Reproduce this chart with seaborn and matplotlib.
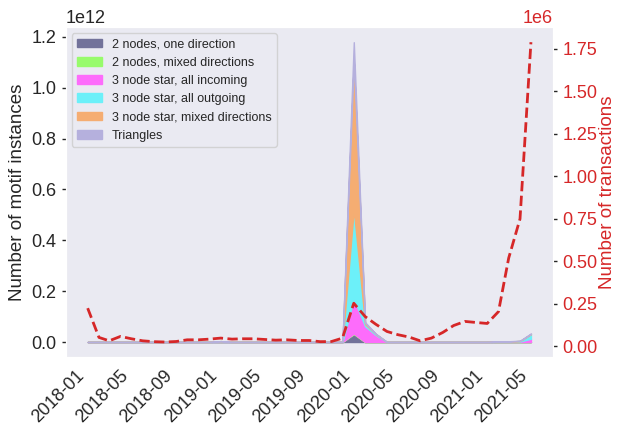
import matplotlib
matplotlib.use("Agg")
import matplotlib.pyplot as plt
import matplotlib.dates as mdates
import matplotlib.ticker as mticker
import pandas as pd
import seaborn as sns

# ---------------------------------------------------------------------------
# Data (monthly, 2018-01 .. 2021-05)
# ---------------------------------------------------------------------------
months = pd.date_range("2018-01-01", "2021-05-01", freq="MS")

motif_labels = [
    "2 nodes, one direction",
    "2 nodes, mixed directions",
    "3 node star, all incoming",
    "3 node star, all outgoing",
    "3 node star, mixed directions",
    "Triangles",
]
motif_colors = ["#72729a", "#98fb6c", "#fd6cfb", "#6cf0f9", "#f5ad72", "#b5b0dd"]

# motif instances, in units of 1e12
two_one_dir = [0] * 24 + [0.031] + [0] * 16
two_mixed = [0] * 24 + [0.002] + [0] * 16
star_in = [0] * 12 + [0.0005] + [0] * 11 + [0.137, 0.062, 0.028] + [0] * 10 + [0.001, 0.001, 0.002, 0.013]
star_out = [0] * 12 + [0.003] + [0] * 11 + [0.351, 0.008, 0.003] + [0] * 10 + [0.001, 0.001, 0.002, 0.018]
star_mixed = [0] * 24 + [0.580, 0.005, 0.001] + [0] * 13 + [0.001]
triangles = [0] * 24 + [0.078, 0.003, 0.001] + [0] * 10 + [0.001, 0.001, 0.001, 0.002]

# number of transactions, in units of 1e6
transactions = [
    0.225, 0.053, 0.033, 0.059, 0.045, 0.033, 0.028, 0.026, 0.029, 0.039,
    0.039, 0.043, 0.049, 0.043, 0.045, 0.045, 0.041, 0.037, 0.039, 0.035,
    0.035, 0.028, 0.029, 0.049, 0.254, 0.176, 0.131, 0.088, 0.069, 0.055,
    0.033, 0.049, 0.082, 0.123, 0.147, 0.141, 0.135, 0.205, 0.520, 0.750,
    1.789,
]

series = [two_one_dir, two_mixed, star_in, star_out, star_mixed, triangles]
series = [[v * 1e12 for v in s] for s in series]
trans = pd.DataFrame({"month": months, "n": [v * 1e6 for v in transactions]})

# ---------------------------------------------------------------------------
# Plot
# ---------------------------------------------------------------------------
sns.set_style("dark")
plt.rcParams["font.family"] = ["Liberation Sans", "DejaVu Sans"]
red = "#d62728"

fig, ax = plt.subplots(figsize=(6.18, 4.25), dpi=100)
fig.subplots_adjust(left=0.106, right=0.895, bottom=0.16, top=0.936)

polys = ax.stackplot(months, *series, labels=motif_labels, colors=motif_colors, linewidth=1)
for p, c in zip(polys, motif_colors):
    p.set_edgecolor(c)
    p.sticky_edges.y[:] = []  # keep the usual margin below zero

ax.set_ylabel("Number of motif instances", fontsize=13.5, color=".15")
ax.tick_params(axis="y", left=True, length=3, width=1, labelsize=13, colors=".15")
ax.tick_params(axis="x", bottom=False, labelsize=13, colors=".15")
ax.yaxis.get_offset_text().set_fontsize(13)
ax.legend(loc="upper left", fontsize=9)

ax2 = ax.twinx()
sns.lineplot(data=trans, x="month", y="n", ax=ax2, color=red, linestyle="--", linewidth=2)
ax2.set_ylabel("Number of transactions", fontsize=13.5, color=red, labelpad=1)
ax2.set_xlabel("")
ax2.yaxis.set_major_locator(mticker.MultipleLocator(0.25e6))
ax2.tick_params(axis="y", right=True, length=3, width=1, labelsize=13, colors=".15", labelcolor=red)
ax2.yaxis.get_offset_text().set_fontsize(13)
ax2.yaxis.get_offset_text().set_color(red)

ax.xaxis.set_major_locator(mdates.MonthLocator(bymonth=[1, 5, 9]))
ax.xaxis.set_major_formatter(mdates.DateFormatter("%Y-%m"))
plt.setp(ax.get_xticklabels(), rotation=45, ha="right")
ax.set_xlabel("")

fig.savefig("out.png", dpi=100)
